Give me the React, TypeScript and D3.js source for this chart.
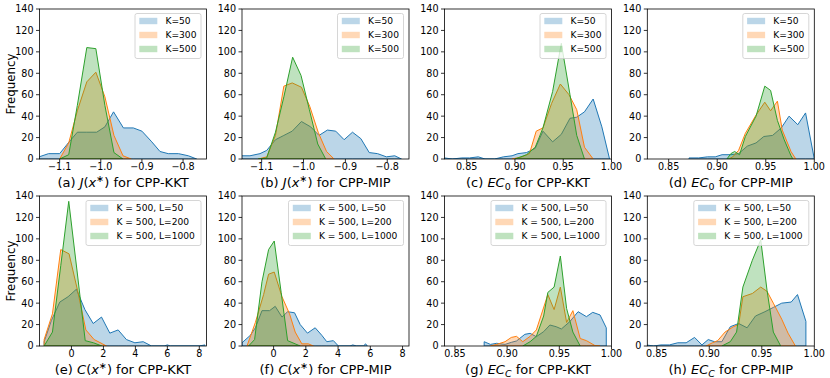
import React from "react";
import * as d3 from "d3";

type Pt = [number, number];

// (a) J(x*) for CPP-KKT
const jKktK50: Pt[] = [[-1.150,2],[-1.127,5],[-1.100,5],[-1.079,15],[-1.057,25],[-1.034,25],[-1.010,25],[-0.990,30],[-0.969,44],[-0.945,29],[-0.921,29],[-0.900,26],[-0.876,16],[-0.856,7],[-0.836,5],[-0.811,5],[-0.787,3],[-0.767,0]];
const jKktK300: Pt[] = [[-1.100,0],[-1.078,15],[-1.057,45],[-1.034,72],[-1.012,81],[-0.990,58],[-0.968,22],[-0.946,3],[-0.926,0]];
const jKktK500: Pt[] = [[-1.100,0],[-1.078,4],[-1.057,50],[-1.034,104],[-1.012,103],[-0.990,50],[-0.968,6],[-0.946,0]];

// (b) J(x*) for CPP-MIP
const jMipK50: Pt[] = [[-1.148,3],[-1.128,3],[-1.104,5],[-1.088,8],[-1.067,18],[-1.047,22],[-1.027,26],[-1.005,35],[-0.983,30],[-0.963,22],[-0.943,27],[-0.923,26],[-0.903,18],[-0.883,25],[-0.863,19],[-0.843,6],[-0.823,5],[-0.802,2],[-0.782,3],[-0.766,0]];
const jMipK300: Pt[] = [[-1.108,0],[-1.088,2],[-1.067,22],[-1.047,68],[-1.027,71],[-1.005,67],[-0.985,49],[-0.965,25],[-0.945,7],[-0.927,0]];
const jMipK500: Pt[] = [[-1.108,0],[-1.088,1],[-1.067,25],[-1.047,58],[-1.026,95],[-1.006,78],[-0.986,46],[-0.966,14],[-0.947,0]];

// (c) EC0 for CPP-KKT
const ec0KktK50: Pt[] = [[0.827,1],[0.835,0],[0.845,1],[0.853,1],[0.862,2],[0.869,0],[0.879,0],[0.888,2],[0.897,3],[0.903,5],[0.912,6],[0.921,10],[0.929,26],[0.939,16],[0.948,23],[0.957,38],[0.964,39],[0.972,44],[0.981,56],[0.990,30],[0.998,0]];
const ec0KktK300: Pt[] = [[0.897,0],[0.907,2],[0.915,5],[0.922,26],[0.929,29],[0.938,52],[0.947,70],[0.956,60],[0.964,46],[0.972,11],[0.981,0]];
const ec0KktK500: Pt[] = [[0.900,0],[0.912,4],[0.921,11],[0.929,29],[0.939,63],[0.948,108],[0.957,60],[0.964,22],[0.972,0]];

// (d) EC0 for CPP-MIP
const ec0MipK50: Pt[] = [[0.871,1],[0.881,1],[0.890,2],[0.898,2],[0.905,4],[0.914,4],[0.922,5],[0.931,12],[0.940,15],[0.948,21],[0.957,22],[0.966,29],[0.974,40],[0.983,32],[0.991,43],[1.000,0]];
const ec0MipK300: Pt[] = [[0.912,0],[0.916,2],[0.922,8],[0.929,24],[0.940,41],[0.949,53],[0.955,45],[0.962,54],[0.967,27],[0.976,7],[0.981,0]];
const ec0MipK500: Pt[] = [[0.910,0],[0.914,5],[0.918,7],[0.923,4],[0.929,21],[0.940,40],[0.949,68],[0.955,64],[0.962,36],[0.969,18],[0.976,3],[0.978,0]];

// (e) C(x*) for CPP-KKT
const cKktL50: Pt[] = [[-1.71,4],[-1.25,24],[-0.73,41],[-0.21,46],[0.31,53],[0.84,34],[1.36,21],[1.88,27],[2.40,12],[2.92,15],[3.44,6],[3.97,3],[4.49,4],[5.01,0],[5.80,0],[6.00,1],[6.20,0],[8.00,0],[8.35,1]];
const cKktL200: Pt[] = [[-1.71,6],[-1.19,30],[-0.67,90],[-0.15,86],[0.38,52],[0.90,15],[1.42,6],[1.94,2],[2.19,0]];
const cKktL1000: Pt[] = [[-1.71,0],[-1.19,13],[-0.67,75],[-0.17,135],[0.35,70],[0.86,5],[1.38,3],[1.90,0]];

// (f) C(x*) for CPP-MIP
const cMipL50: Pt[] = [[-1.96,3],[-1.44,10],[-1.13,17],[-0.72,33],[-0.25,33],[0.10,37],[0.52,27],[0.87,32],[1.30,31],[1.65,20],[2.10,12],[2.58,17],[2.99,10],[3.30,4],[3.71,5],[4.02,0],[4.74,0],[4.91,1],[5.15,0],[5.57,0],[5.71,2],[5.81,0]];
const cMipL200: Pt[] = [[-1.65,0],[-1.13,22],[-0.62,48],[-0.31,67],[0.04,69],[0.52,46],[0.99,30],[1.34,13],[1.75,2],[2.16,2],[2.47,0]];
const cMipL1000: Pt[] = [[-1.55,0],[-1.18,6],[-0.72,60],[-0.31,90],[0.04,98],[0.47,50],[0.87,5],[1.34,2],[1.65,0]];

// (g) ECC for CPP-KKT
const eccKktL50: Pt[] = [[0.878,4],[0.884,1.5],[0.890,2.5],[0.898,1.5],[0.904,3.4],[0.909,4.7],[0.917,10.9],[0.922,11.8],[0.928,8.7],[0.935,13.4],[0.941,19.6],[0.947,18],[0.952,15.9],[0.960,22.7],[0.968,32],[0.976,27.4],[0.982,31.4],[0.989,29],[0.995,17]];
const eccKktL200: Pt[] = [[0.884,0],[0.890,1.5],[0.898,4],[0.904,8],[0.909,9],[0.915,4],[0.922,9],[0.928,15],[0.939,48],[0.945,34],[0.951,55],[0.957,22],[0.963,33],[0.970,7],[0.976,5],[0.984,0.5],[0.989,0]];
const eccKktL1000: Pt[] = [[0.915,0],[0.922,4],[0.928,9],[0.935,28],[0.939,50],[0.945,55],[0.951,84],[0.957,35],[0.963,13],[0.970,0]];

// (h) ECC for CPP-MIP
const eccMipL50: Pt[] = [[0.840,1],[0.847,0],[0.854,1],[0.862,1],[0.870,3],[0.878,3],[0.886,8],[0.893,1],[0.899,6],[0.905,4],[0.912,4],[0.920,18],[0.928,21],[0.936,17],[0.944,28],[0.953,32],[0.961,36],[0.969,40],[0.978,41],[0.984,48],[0.992,23]];
const eccMipL200: Pt[] = [[0.897,0],[0.903,3],[0.908,5],[0.915,13],[0.923,18],[0.928,20],[0.932,46],[0.941,49],[0.949,55],[0.955,51],[0.961,40],[0.969,25],[0.975,12],[0.982,0]];
const eccMipL1000: Pt[] = [[0.912,0],[0.920,4],[0.926,13],[0.932,55],[0.941,80],[0.949,99],[0.955,52],[0.961,13],[0.968,0]];

const kLabels = ["K=50", "K=300", "K=500"];
const lLabels = ["K = 500, L=50", "K = 500, L=200", "K = 500, L=1000"];
const yTicks = [0, 20, 40, 60, 80, 100, 120, 140];
const jTicks = [-1.1, -1.0, -0.9, -0.8];
const ecTicks = [0.85, 0.9, 0.95, 1.0];
const cTicks = [0, 2, 4, 6, 8];

const COLORS = ["#1f77b4", "#ff7f0e", "#2ca02c"];
const FONT = "DejaVu Sans, Verdana, sans-serif";
const W = 167;
const H = 150;
const LEFTS = [39.5, 242, 444.5, 647.3];
const TOPS = [9, 196];

type Seg = { t: string; it?: boolean; sup?: boolean; sub?: boolean };
type Cfg = {
  tag: string;
  domain: [number, number];
  ticks: number[];
  fmt: string;
  series: Pt[][];
  labels: string[];
  legendW: number;
  title: Seg[];
};

const jx = (tag: string, m: string): Seg[] => [
  { t: `(${tag}) ` }, { t: "J", it: true }, { t: "(" }, { t: "x", it: true }, { t: "∗", sup: true }, { t: `) for CPP-${m}` },
];
const cx = (tag: string, m: string): Seg[] => [
  { t: `(${tag}) ` }, { t: "C", it: true }, { t: "(" }, { t: "x", it: true }, { t: "∗", sup: true }, { t: `) for CPP-${m}` },
];
const ec = (tag: string, sub: string, subIt: boolean, m: string): Seg[] => [
  { t: `(${tag}) ` }, { t: "EC", it: true }, { t: sub, sub: true, it: subIt }, { t: ` for CPP-${m}` },
];

const panels: Cfg[] = [
  { tag: "a", domain: [-1.149, -0.743], ticks: jTicks, fmt: ".1f", series: [jKktK50, jKktK300, jKktK500], labels: kLabels, legendW: 66, title: jx("a", "KKT") },
  { tag: "b", domain: [-1.147, -0.748], ticks: jTicks, fmt: ".1f", series: [jMipK50, jMipK300, jMipK500], labels: kLabels, legendW: 66, title: jx("b", "MIP") },
  { tag: "c", domain: [0.827, 1.0], ticks: ecTicks, fmt: ".2f", series: [ec0KktK50, ec0KktK300, ec0KktK500], labels: kLabels, legendW: 66, title: ec("c", "0", false, "KKT") },
  { tag: "d", domain: [0.828, 1.0], ticks: ecTicks, fmt: ".2f", series: [ec0MipK50, ec0MipK300, ec0MipK500], labels: kLabels, legendW: 66, title: ec("d", "0", false, "MIP") },
  { tag: "e", domain: [-2.0, 8.45], ticks: cTicks, fmt: "d", series: [cKktL50, cKktL200, cKktL1000], labels: lLabels, legendW: 115, title: cx("e", "KKT") },
  { tag: "f", domain: [-1.96, 8.4], ticks: cTicks, fmt: "d", series: [cMipL50, cMipL200, cMipL1000], labels: lLabels, legendW: 115, title: cx("f", "MIP") },
  { tag: "g", domain: [0.84, 1.0], ticks: ecTicks, fmt: ".2f", series: [eccKktL50, eccKktL200, eccKktL1000], labels: lLabels, legendW: 115, title: ec("g", "C", true, "KKT") },
  { tag: "h", domain: [0.841, 1.0], ticks: ecTicks, fmt: ".2f", series: [eccMipL50, eccMipL200, eccMipL1000], labels: lLabels, legendW: 115, title: ec("h", "C", true, "MIP") },
];

function Title({ segs, x, y }: { segs: Seg[]; x: number; y: number }) {
  let shift = 0;
  const spans = segs.map((s, i) => {
    const target = s.sup ? -5 : s.sub ? 3 : 0;
    const dy = target - shift;
    shift = target;
    return (
      <tspan key={i} dy={dy} fontStyle={s.it ? "italic" : "normal"} fontSize={s.sup || s.sub ? 9.5 : undefined}>
        {s.t}
      </tspan>
    );
  });
  return (
    <text x={x} y={y} textAnchor="middle" fontSize={13} xmlSpace="preserve">
      {spans}
    </text>
  );
}

function Panel({ cfg, left, top, showYLabel }: { cfg: Cfg; left: number; top: number; showYLabel: boolean }) {
  const x = d3.scaleLinear().domain(cfg.domain).range([left, left + W]);
  const y = d3.scaleLinear().domain([0, 140]).range([top + H, top]);
  const area = d3.area<Pt>().x((d) => x(d[0])).y0(y(0)).y1((d) => y(d[1]));
  const fmt = d3.format(cfg.fmt);
  const clipId = `clip-${cfg.tag}`;
  const bottom = top + H;
  const right = left + W;
  const lgX = right - 5.5 - cfg.legendW;
  const lgY = top + 4.5;

  return (
    <g>
      <clipPath id={clipId}>
        <rect x={left} y={top} width={W} height={H} />
      </clipPath>
      <g clipPath={`url(#${clipId})`}>
        {cfg.series.map((s, i) => (
          <path key={i} d={area(s) ?? ""} fill={COLORS[i]} fillOpacity={0.3} stroke={COLORS[i]} strokeWidth={1} strokeLinejoin="round" />
        ))}
      </g>
      <rect x={left} y={top} width={W} height={H} fill="none" stroke="#000" strokeWidth={0.8} />
      {y.ticks(7).filter((t) => yTicks.includes(t)).map((t) => (
        <g key={t}>
          <line x1={left - 3.5} x2={left} y1={y(t)} y2={y(t)} stroke="#000" strokeWidth={0.8} />
          <text x={left - 6} y={y(t)} dy="0.35em" textAnchor="end" fontSize={9.6}>
            {t}
          </text>
        </g>
      ))}
      {cfg.ticks.map((t) => (
        <g key={t}>
          <line x1={x(t)} x2={x(t)} y1={bottom} y2={bottom + 3.5} stroke="#000" strokeWidth={0.8} />
          <text x={x(t)} y={bottom + 11.2} textAnchor="middle" fontSize={9.6}>
            {fmt(t)}
          </text>
        </g>
      ))}
      <rect x={lgX} y={lgY} width={cfg.legendW} height={45} rx={2} fill="#fff" fillOpacity={0.8} stroke="#cccccc" strokeWidth={0.8} />
      {cfg.labels.map((lab, i) => {
        const cy = top + 12 + i * 14;
        return (
          <g key={lab}>
            <rect x={lgX + 4.3} y={cy - 3.2} width={18} height={6.4} fill={COLORS[i]} fillOpacity={0.3} />
            <text x={lgX + 30.5} y={cy} dy="0.35em" fontSize={9.1}>
              {lab}
            </text>
          </g>
        );
      })}
      <Title segs={cfg.title} x={left + W / 2} y={bottom + 27.5} />
      {showYLabel && (
        <text transform={`translate(15,${top + H / 2}) rotate(-90)`} textAnchor="middle" fontSize={11.8}>
          Frequency
        </text>
      )}
    </g>
  );
}

export default function App() {
  return (
    <svg
      width={830}
      height={378}
      style={{ position: "absolute", left: 0, top: 0, background: "#fff" }}
      fontFamily={FONT}
    >
      <rect width={830} height={378} fill="#fff" />
      {panels.map((p, i) => (
        <Panel key={p.tag} cfg={p} left={LEFTS[i % 4]} top={TOPS[Math.floor(i / 4)]} showYLabel={i % 4 === 0} />
      ))}
    </svg>
  );
}
